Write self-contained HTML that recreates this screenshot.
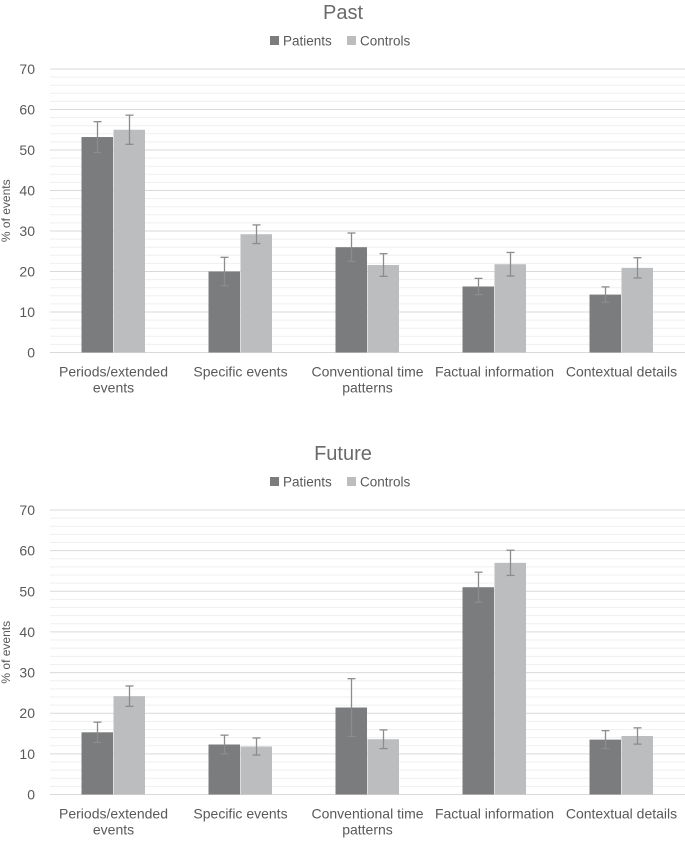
<!DOCTYPE html>
<html><head><meta charset="utf-8"><style>
html,body{margin:0;padding:0;background:#fff;}
svg{display:block;font-family:"Liberation Sans","DejaVu Sans",sans-serif;}
</style></head><body>
<svg id="c" width="685" height="841"></svg>
<script>
const categories=["Periods/extended|events","Specific events","Conventional time|patterns","Factual information","Contextual details"];
const pastPatients=[53.2,20,26,16.3,14.3];
const pastControls=[55,29.2,21.6,21.8,20.9];
const pastPatientsErr=[3.8,3.5,3.5,2,1.9];
const pastControlsErr=[3.6,2.3,2.8,2.9,2.5];
const futurePatients=[15.3,12.3,21.4,51,13.5];
const futureControls=[24.2,11.8,13.6,57,14.4];
const futurePatientsErr=[2.5,2.3,7.1,3.7,2.2];
const futureControlsErr=[2.5,2.1,2.3,3.1,2];
const yTicks=[0,10,20,30,40,50,60,70];
const NS="http://www.w3.org/2000/svg";
const svg=document.getElementById('c');
function mk(t,a,p){const e=document.createElementNS(NS,t);for(const k in a)e.setAttribute(k,a[k]);(p||svg).appendChild(e);return e;}
function panel(title,off,base,top,pv,cv,pe,ce,key){
  const g=mk('g',{});
  
  
  const L=50,R=685,ymax=70;
  const y=v=>base-(v/ymax)*(base-top);
  const band=(R-L)/categories.length;
  const t=mk('text',{x:343,y:off+19,'text-anchor':'middle','font-size':20,fill:'#6a6a6a'},g);t.textContent=title;
  
  
  [['Patients','#7b7c7e',270],['Controls','#bcbdbf',347]].forEach(([n,c,x])=>{
    const lg=mk('g',{},g);
    
    
    mk('rect',{x:x,y:off+36,width:9,height:9,fill:c},lg);
    const tx=mk('text',{x:x+13,y:off+45.5,'font-size':13.5,fill:'#595959'},lg);tx.textContent=n;
  });
  for(let v=0;v<=ymax;v+=2){
    const major=v%10===0;
    const ln=mk('line',{x1:L,x2:R,y1:y(v),y2:y(v),stroke:major?'#d9d9d9':'#efefef','stroke-width':1},g);
    
    
  }
  yTicks.forEach(v=>{
    const tx=mk('text',{x:35,y:y(v)+5,'text-anchor':'end','font-size':14,fill:'#595959'},g);tx.textContent=v;
    
    
  });
  const yt=mk('text',{transform:`translate(10,${(base+top)/2}) rotate(-90)`,'text-anchor':'middle','font-size':12,fill:'#595959'},g);yt.textContent='% of events';
  
  
  categories.forEach((c,i)=>{
    const cx=L+band*(i+0.5);
    [[pv[i],pe[i],'#7b7c7e',cx-32,'patients'],[cv[i],ce[i],'#bcbdbf',cx,'controls']].forEach(([v,e,col,x,s])=>{
      const r=mk('rect',{x:x,y:y(v),width:31.5,height:base-y(v),fill:col},g);
      
      
      const mx=x+16;
      const eg=mk('g',{stroke:'#8c8c8c','stroke-width':1.3},g);
      
      
      mk('line',{x1:mx,x2:mx,y1:y(v+e),y2:y(v-e)},eg);
      mk('line',{x1:mx-4,x2:mx+4,y1:y(v+e),y2:y(v+e)},eg);
      mk('line',{x1:mx-4,x2:mx+4,y1:y(v-e),y2:y(v-e)},eg);
    });
    c.split('|').forEach((ln,j)=>{
      const tx=mk('text',{x:cx,y:base+24+j*16,'text-anchor':'middle','font-size':14,fill:'#595959'},g);tx.textContent=ln;
      
      
    });
  });
}
panel('Past',0,352.5,69,pastPatients,pastControls,pastPatientsErr,pastControlsErr,'past');
panel('Future',441,794.5,510,futurePatients,futureControls,futurePatientsErr,futureControlsErr,'future');
</script>
</body></html>
